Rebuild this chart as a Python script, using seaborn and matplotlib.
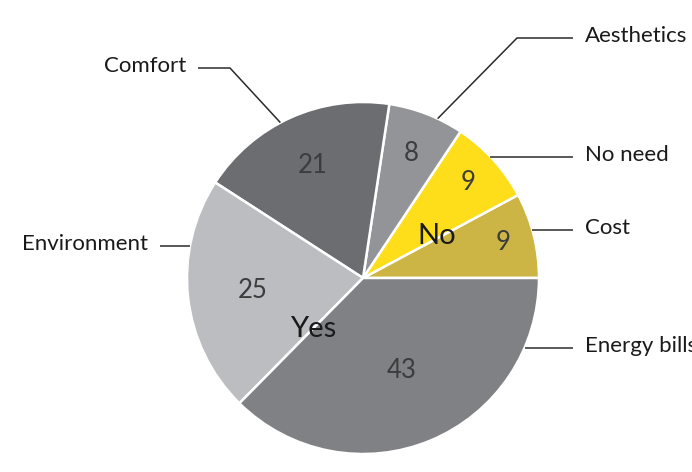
import numpy as np
import matplotlib
matplotlib.use('Agg')
import matplotlib.pyplot as plt
import seaborn as sns

# data (counter-clockwise from 3 o'clock)
labels = ['Cost', 'No need', 'Aesthetics', 'Comfort', 'Environment', 'Energy bills']
values = [9, 9, 8, 21, 25, 43]
colors = ['#cdb545', '#fedd1a', '#939498', '#6c6d71', '#bcbdc0', '#808185']

# where the number sits along the radius (fraction)
num_r = [0.82, 0.81, 0.76, 0.70, 0.63, 0.57]
# where the leader line touches the rim (deg)
anchor_deg = [15.8, 43.6, 64.9, 118, 169.6, -23.4]

sns.set_theme(style='white')
plt.rcParams['font.family'] = ['Lato', 'DejaVu Sans']

fig = plt.figure(figsize=(6.92, 4.72), dpi=100)
ax = fig.add_axes([0, 0, 1, 1])

cx, cy, R = 363, 194, 176
wedges, _ = ax.pie(values, colors=colors, startangle=0, counterclock=True,
                   center=(cx, cy), radius=R, frame=True,
                   wedgeprops=dict(edgecolor='white', linewidth=1.8))
ax.set_xlim(0, 692)
ax.set_ylim(0, 472)
ax.set_aspect('equal')
ax.axis('off')

# numbers inside the slices
total = sum(values)
bounds = np.cumsum([0] + values) / total * 360
for i, v in enumerate(values):
    mid = np.deg2rad((bounds[i] + bounds[i + 1]) / 2)
    ax.text(cx + num_r[i] * R * np.cos(mid), cy + num_r[i] * R * np.sin(mid), str(v),
            ha='center', va='center', fontsize=18.5, fontweight='normal', color='#3c3c3c')

# group labels on the boundaries
for txt, ang, rr in [('Yes', bounds[5], 71), ('No', bounds[1] + 1.4, 85)]:
    a = np.deg2rad(ang)
    ax.text(cx + rr * np.cos(a), cy + rr * np.sin(a), txt, ha='center', va='center',
            fontsize=21, color='#1a1a1a')

# leader lines and outer labels
line_kw = dict(color='#2b2b2b', lw=1.1, solid_capstyle='butt')
label_y = [242, 315, 434, 404, 226, 124]
for i, lab in enumerate(labels):
    a = np.deg2rad(anchor_deg[i])
    x0, y0 = cx + R * np.cos(a), cy + R * np.sin(a)
    ly = label_y[i]
    if lab == 'Aesthetics':
        ax.plot([x0, 517, 573], [y0, ly, ly], **line_kw)
        ax.text(585, ly + 2, lab, ha='left', va='center', fontsize=16, color='#1a1a1a')
    elif lab == 'Comfort':
        ax.plot([x0, 230, 198], [y0, ly, ly], **line_kw)
        ax.text(186, ly + 2, lab, ha='right', va='center', fontsize=16, color='#1a1a1a')
    elif lab == 'Environment':
        ax.plot([x0, 160], [y0, y0], **line_kw)
        ax.text(148, y0 + 2, lab, ha='right', va='center', fontsize=16, color='#1a1a1a')
    else:
        ax.plot([x0, 573], [y0, y0], **line_kw)
        ax.text(585, y0 + 2, lab, ha='left', va='center', fontsize=16, color='#1a1a1a')

fig.savefig('out.png', dpi=100, facecolor='white')
